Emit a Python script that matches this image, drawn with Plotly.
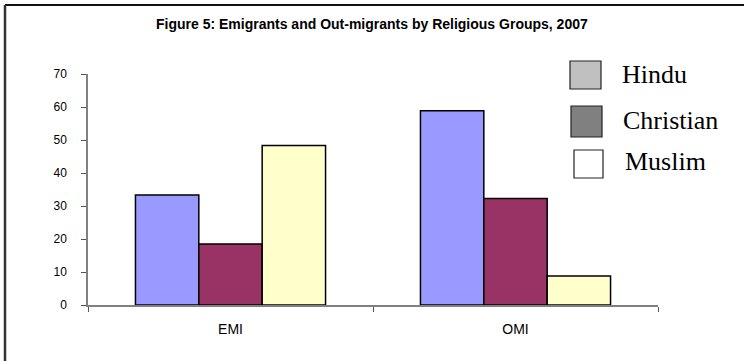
import plotly.graph_objects as go

categories = ["EMI", "OMI"]
series_names = ["Hindu", "Christian", "Muslim"]
hindu = [33.3, 58.9]
christian = [18.5, 32.3]
muslim = [48.3, 8.8]
y_ticks = [0, 10, 20, 30, 40, 50, 60, 70]
title_text = "Figure 5: Emigrants and Out-migrants by Religious Groups, 2007"

bar_colors = ["#9999FF", "#993366", "#FFFFCC"]
legend_colors = ["#C0C0C0", "#808080", "#FFFFFF"]

W, H = 744, 361
L, R, T, B = 88, 86, 74, 56
PW, PH = W - L - R, H - T - B

def px(x):
    return (x - L) / PW

def py(y):
    return (H - B - y) / PH

fig = go.Figure()
for name, vals, col in zip(series_names, [hindu, christian, muslim], bar_colors):
    fig.add_trace(go.Bar(
        x=categories, y=vals, name=name, marker=dict(color=col, line=dict(color="black", width=1.5)),
        showlegend=False,
    ))

shapes = []
annotations = []
# outer frame (top and left)
shapes.append(dict(type="line", xref="paper", yref="paper", x0=px(5), x1=px(745), y0=py(5), y1=py(5),
                   line=dict(color="#111", width=2)))
shapes.append(dict(type="line", xref="paper", yref="paper", x0=px(5), x1=px(5), y0=py(5), y1=py(362),
                   line=dict(color="#333", width=2.5)))

# legend
leg_boxes = [(570, 61, 601, 89), (571, 106, 602, 137), (574, 150, 603, 178)]
leg_text = [(620, 75), (621, 120), (623, 161)]
for name, col, (x0, y0, x1, y1), (tx, ty) in zip(series_names, legend_colors, leg_boxes, leg_text):
    shapes.append(dict(type="rect", xref="paper", yref="paper", x0=px(x0), x1=px(x1), y0=py(y1), y1=py(y0),
                       fillcolor=col, line=dict(color="#222", width=1.2)))
    annotations.append(dict(text=name, xref="paper", yref="paper", x=px(tx), y=py(ty), xanchor="left",
                            yanchor="middle", showarrow=False,
                            font=dict(family="Liberation Serif", size=26, color="black")))

annotations.append(dict(text="<b>" + title_text + "</b>", xref="paper", yref="paper", x=px(372), y=py(24),
                        xanchor="center", yanchor="middle", showarrow=False,
                        font=dict(family="Liberation Sans", size=14, color="black")))

fig.update_layout(
    width=W, height=H, margin=dict(l=L, r=R, t=T, b=B),
    paper_bgcolor="white", plot_bgcolor="white",
    barmode="group", bargap=0.333, bargroupgap=0,
    shapes=shapes, annotations=annotations,
    font=dict(family="Liberation Sans", color="black"),
)
fig.update_xaxes(type="category", range=[-0.5, 1.5], showline=True, linecolor="#808080", linewidth=1.5,
                 ticks="outside", tickson="boundaries", ticklen=5, tickcolor="#555",
                 tickfont=dict(size=14, family="Liberation Sans", color="black"), showgrid=False,
                 zeroline=False, ticklabelstandoff=10)
fig.update_yaxes(range=[0, 70], tickvals=y_ticks, showline=True, linecolor="#808080", linewidth=1.5,
                 ticks="outside", ticklen=5, tickcolor="#555", showgrid=False, zeroline=False,
                 tickfont=dict(size=12, family="Liberation Sans", color="black"), ticklabelstandoff=12)

fig.write_html("out.html")
